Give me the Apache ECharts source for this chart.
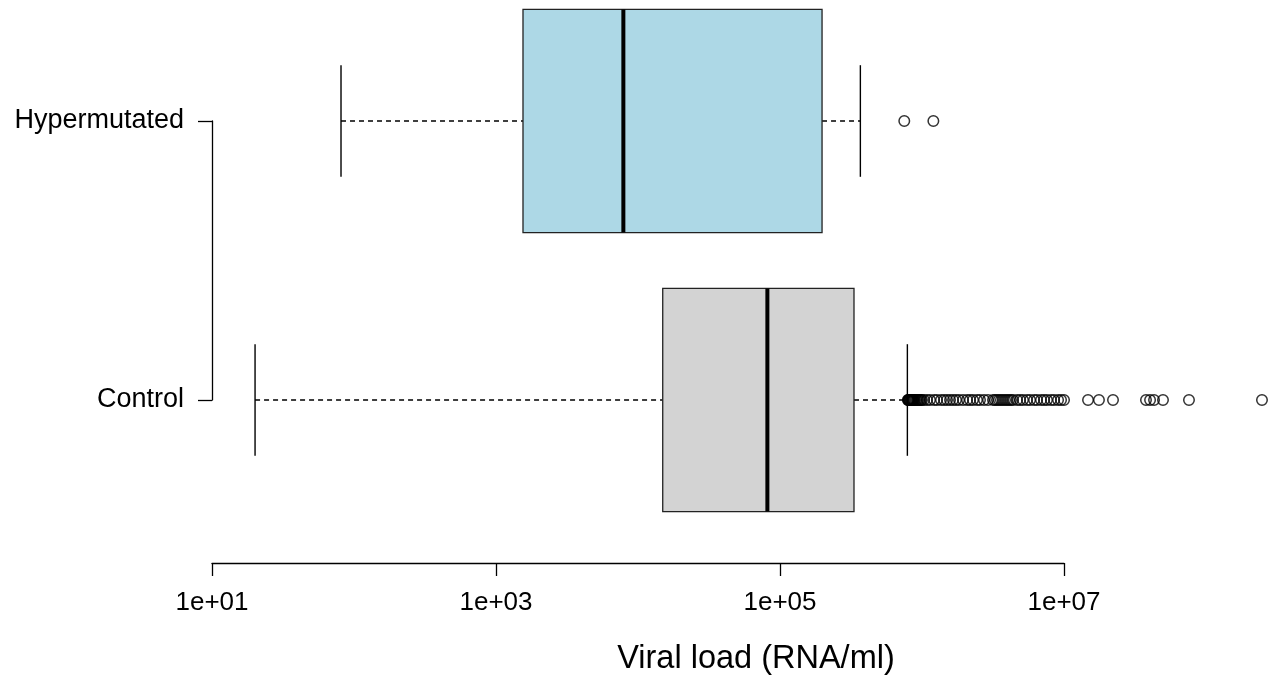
<!DOCTYPE html>
<html>

<head>
    <meta charset="utf-8">
    <script src="https://cdn.jsdelivr.net/npm/echarts@6.0.0/dist/echarts.min.js"></script>
    <style>
        html, body {
            margin: 0;
            padding: 0;
            background: #fff;
        }

        #chart {
            width: 1273px;
            height: 678px;
        }
    </style>
</head>

<body>
    <div id="chart"></div>

    <script>
        // groups, bottom to top (R boxplot order)
        var groups = ['Control', 'Hypermutated'];

        // five-number summaries, RNA/ml
        var whiskerLow = [20.1, 81];
        var quartile1 = [14930, 1549];
        var medians = [81470, 7886];
        var quartile3 = [331900, 197700];
        var whiskerHigh = [788600, 368000];

        var controlOutliers = [
            795000, 800000, 805000, 810000, 815000, 822000, 830000, 837000, 845000, 851000,
            858000, 865000, 872000, 879000, 893000, 908000, 923000, 938000, 953000, 968000,
            985000, 1000000, 1033000, 1084000, 1138000, 1216000, 1275000, 1361000, 1429000,
            1500000, 1575000, 1653000, 1735000, 1823000, 1945000, 2075000, 2178000, 2286000,
            2439000, 2560000, 2733000, 2916000, 3162000, 3266000, 3373000, 3483000, 3597000,
            3715000, 3843000, 3969000, 4099000, 4233000, 4372000, 4667000, 4898000, 5140000,
            5483000, 5768000, 6152000, 6457000, 6887000, 7228000, 7586000, 8091000, 8511000,
            9078000, 9528000, 10000000, 14760000, 17620000, 22130000, 37780000, 40360000,
            43050000, 49770000, 75860000, 247800000
        ];
        var hyperOutliers = [750000, 1202000];

        var xTickLabels = ['1e+01', '1e+03', '1e+05', '1e+07'];
        var xTitle = 'Viral load (RNA/ml)';

        var boxFill = ['#d3d3d3', '#add8e6'];

        var boxRows = groups.map(function (g, i) {
            return [i, whiskerLow[i], quartile1[i], medians[i], quartile3[i], whiskerHigh[i]];
        });
        var outlierPoints = controlOutliers.map(function (v) { return [v, 0]; })
            .concat(hyperOutliers.map(function (v) { return [v, 1]; }));

        var chart = echarts.init(document.getElementById('chart'));

        function renderBox(params, api) {
            var cat = api.value(0);
            var lo = api.coord([api.value(1), cat]);
            var q1 = api.coord([api.value(2), cat]);
            var md = api.coord([api.value(3), cat]);
            var q3 = api.coord([api.value(4), cat]);
            var hi = api.coord([api.value(5), cat]);
            var band = api.size([0, 1])[1];
            var half = band * 0.4;
            var staple = band * 0.2;
            var y = md[1];
            var dash = { stroke: '#000', lineWidth: 1.5, lineDash: [5, 4] };
            var solid = { stroke: '#000', lineWidth: 1.4 };
            return {
                type: 'group',
                children: [
                    { type: 'line', shape: { x1: lo[0], y1: y, x2: q1[0], y2: y }, style: dash },
                    { type: 'line', shape: { x1: q3[0], y1: y, x2: hi[0], y2: y }, style: dash },
                    { type: 'line', shape: { x1: lo[0], y1: y - staple, x2: lo[0], y2: y + staple }, style: solid },
                    { type: 'line', shape: { x1: hi[0], y1: y - staple, x2: hi[0], y2: y + staple }, style: solid },
                    {
                        type: 'rect',
                        shape: { x: q1[0], y: y - half, width: q3[0] - q1[0], height: half * 2 },
                        style: { fill: boxFill[cat], stroke: '#222', lineWidth: 1.3 }
                    },
                    { type: 'line', shape: { x1: md[0], y1: y - half, x2: md[0], y2: y + half }, style: { stroke: '#000', lineWidth: 4 } }
                ]
            };
        }

        var option = {
            animation: false,
            textStyle: { fontFamily: 'Liberation Sans', color: '#000' },
            grid: [
                // plot region (runs past the right edge, as in the cropped original)
                { left: 212, top: -18.5, width: 1088, height: 558, outerBoundsMode: 'none' },
                // left axis (tick to tick)
                { left: 212, top: 121, width: 1, height: 279, outerBoundsMode: 'none' },
                // bottom axis (tick to tick)
                { left: 212, top: 562, width: 852, height: 1, outerBoundsMode: 'none' }
            ],
            xAxis: [
                {
                    gridIndex: 0,
                    type: 'log',
                    min: 10,
                    max: 459000000,
                    axisLine: { show: false },
                    axisTick: { show: false },
                    axisLabel: { show: false },
                    splitLine: { show: false },
                    name: xTitle,
                    nameLocation: 'middle',
                    nameGap: 103,
                    nameTextStyle: { fontSize: 32.5, color: '#000' }
                },
                { gridIndex: 1, type: 'value', show: false },
                {
                    gridIndex: 2,
                    type: 'category',
                    data: xTickLabels,
                    boundaryGap: false,
                    axisLine: { lineStyle: { color: '#000', width: 1.3 } },
                    axisTick: { length: 13, lineStyle: { color: '#000', width: 1.3 } },
                    axisLabel: { fontSize: 26, color: '#000', margin: 27 }
                }
            ],
            yAxis: [
                {
                    gridIndex: 0,
                    type: 'category',
                    data: groups,
                    show: false
                },
                {
                    gridIndex: 1,
                    type: 'category',
                    data: groups,
                    boundaryGap: false,
                    axisLine: { lineStyle: { color: '#000', width: 1.3 } },
                    axisTick: { length: 14, lineStyle: { color: '#000', width: 1.3 } },
                    axisLabel: { fontSize: 27, color: '#000', margin: 28 }
                },
                { gridIndex: 2, type: 'value', show: false }
            ],
            series: [
                {
                    type: 'custom',
                    xAxisIndex: 0,
                    yAxisIndex: 0,
                    renderItem: renderBox,
                    encode: { x: [1, 2, 3, 4, 5], y: 0 },
                    data: boxRows
                },
                {
                    type: 'scatter',
                    xAxisIndex: 0,
                    yAxisIndex: 0,
                    symbol: 'circle',
                    symbolSize: 10.5,
                    itemStyle: { color: 'rgba(0,0,0,0)', borderColor: '#000', borderWidth: 1.5 },
                    data: outlierPoints
                }
            ]
        };

        chart.setOption(option);
    </script>
</body>

</html>
